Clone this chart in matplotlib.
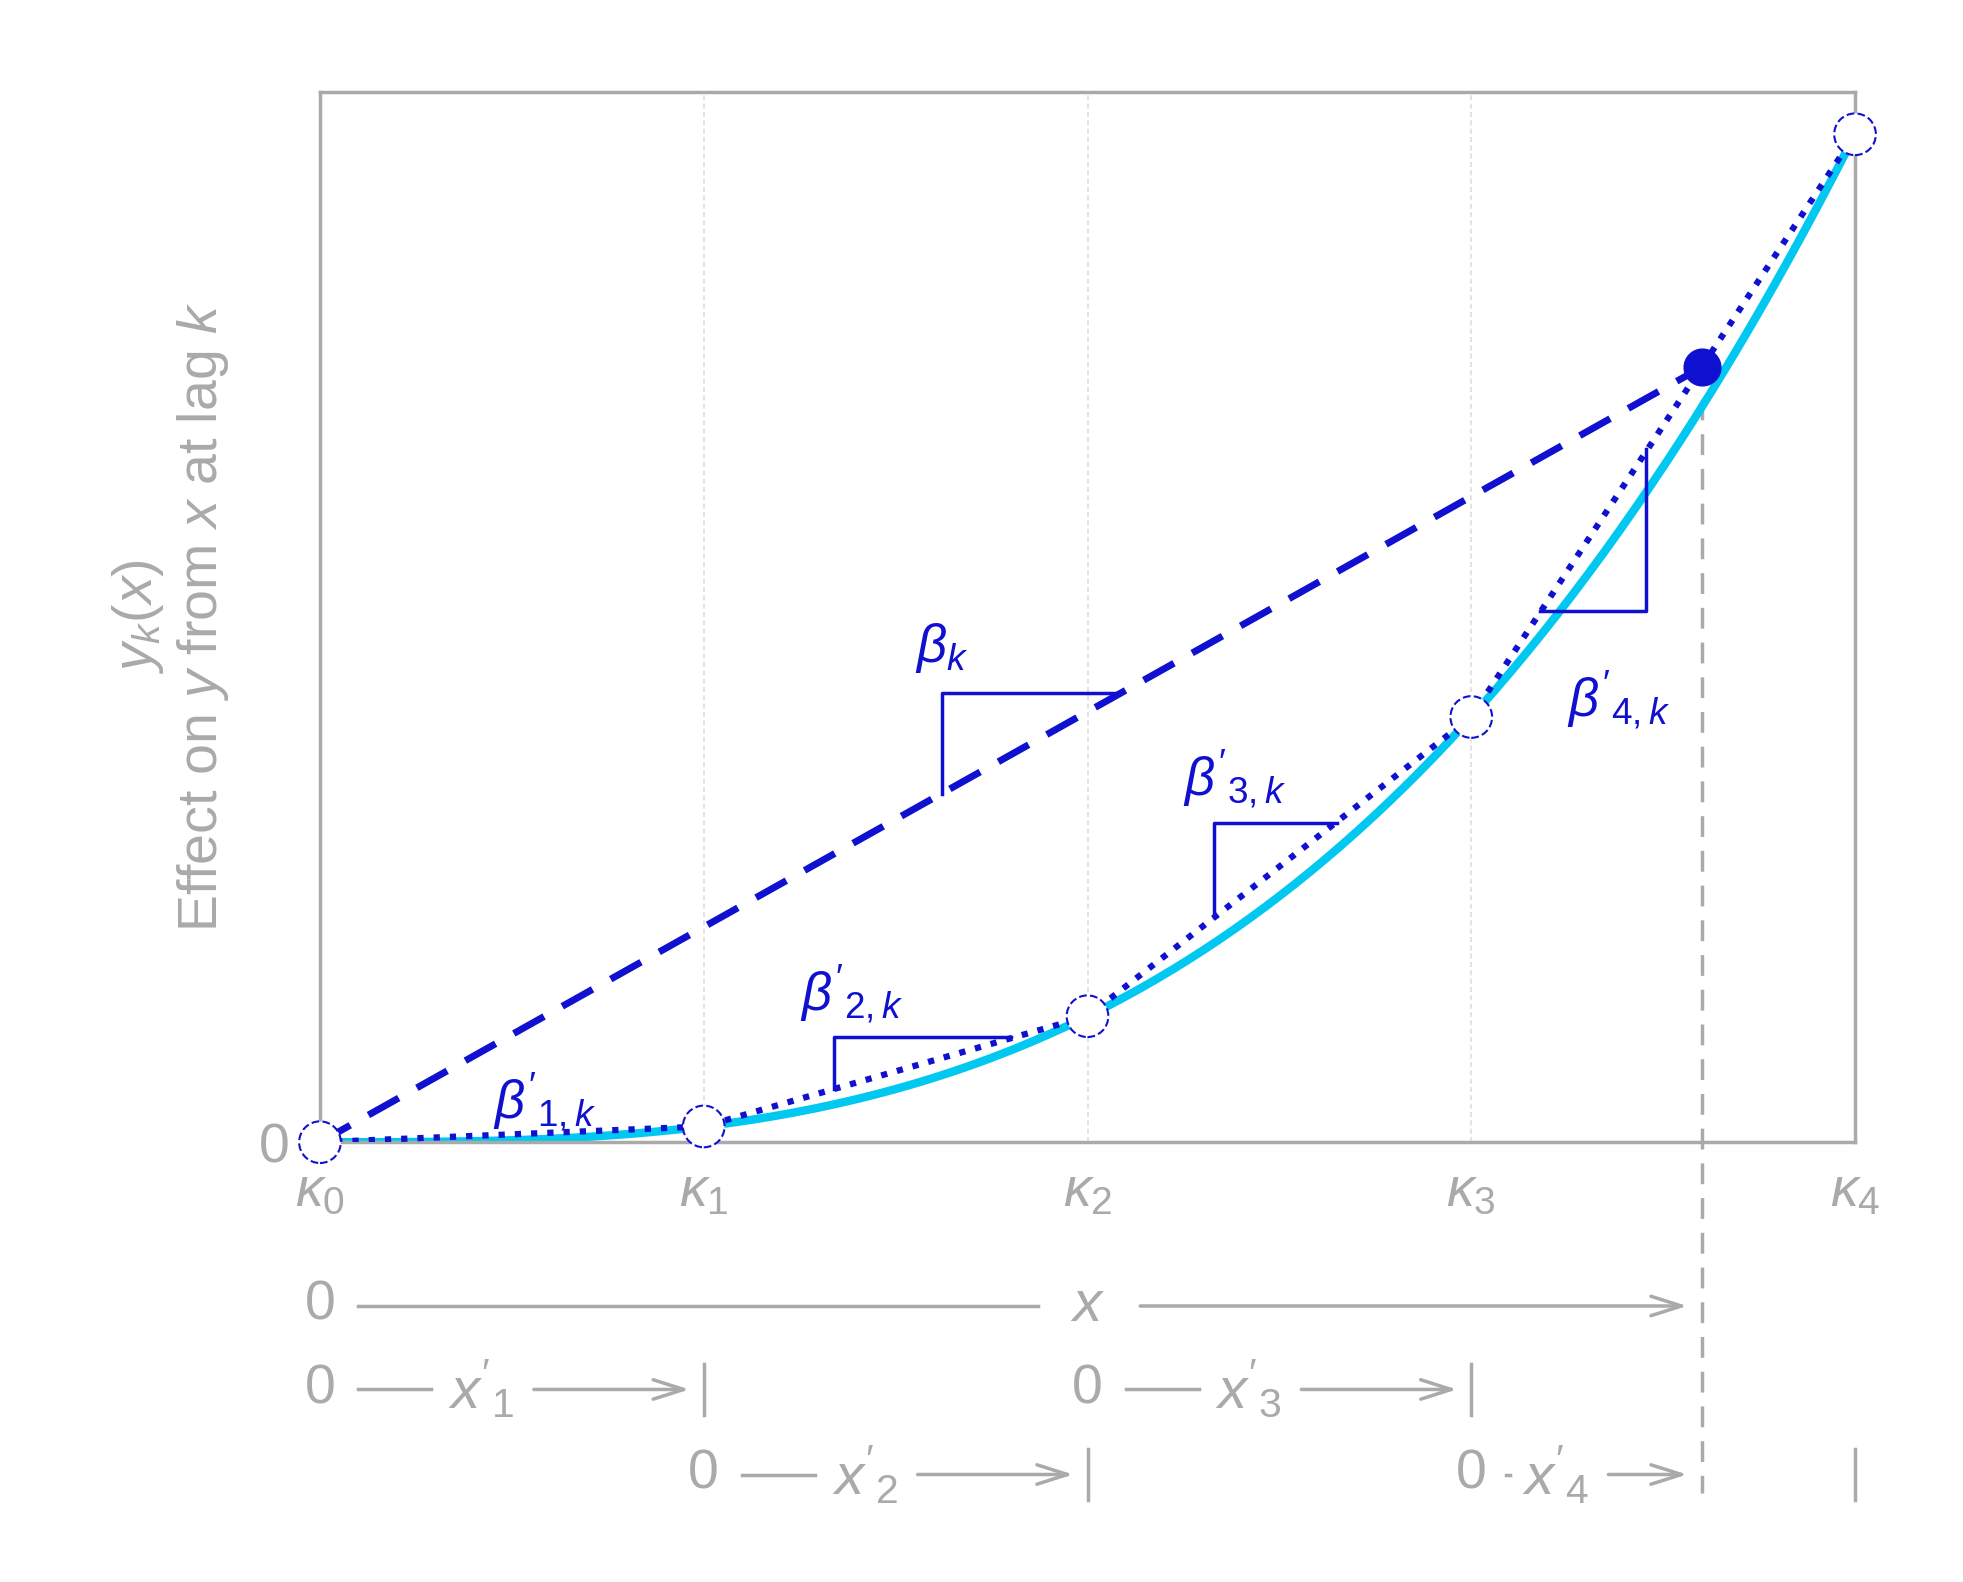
import numpy as np
import matplotlib
matplotlib.use("Agg")
import matplotlib.pyplot as plt

plt.rcParams['font.family'] = ['Liberation Sans', 'DejaVu Sans']
plt.rcParams['mathtext.fontset'] = 'custom'
plt.rcParams['mathtext.rm'] = 'Liberation Sans'
plt.rcParams['mathtext.it'] = 'Liberation Sans:italic'

knots = [0, 1, 2, 3, 4]
knot_labels = [r"$\kappa_0$", r"$\kappa_1$", r"$\kappa_2$", r"$\kappa_3$", r"$\kappa_4$"]
knot_y = [0, 1, 8, 27, 64]
x_point = 3.6
y_point = 49.2

gray = "#aaaaaa"
blue = "#1010d0"
cyan = "#00c8f0"

fig = plt.figure(figsize=(19.63, 15.82), dpi=100)
ax = fig.add_axes([0.163, 0.278, 0.782, 0.664])
ax.set_xlim(0, 4)
ax.set_ylim(0, 66.7)

xs = np.linspace(0, 4, 300)
ax.plot(xs, xs**3, color=cyan, lw=6, zorder=2)
ax.plot(knots, knot_y, color=blue, lw=4.5, ls=(0, (1, 1.6)), zorder=3)
ax.plot([0, x_point], [0, y_point], color=blue, lw=5, ls=(0, (5, 3)), zorder=3)
for k in [1, 2, 3]:
    ax.axvline(k, color="#dddddd", lw=1.2, ls=(0, (3, 2)), zorder=0)
ax.scatter(knots, knot_y, s=900, facecolor="white", edgecolor=blue, linestyle="--", lw=1.5, zorder=5, clip_on=False)
ax.scatter([x_point], [y_point], s=700, color=blue, zorder=6)

tri = dict(color=blue, lw=2.5)
ax.plot([1.34, 1.34, 1.8], [3.4, 6.7, 6.7], **tri)
ax.plot([2.33, 2.33, 2.65], [14.3, 20.3, 20.3], **tri)
ax.plot([3.18, 3.455, 3.455], [33.7, 33.7, 44.0], **tri)
ax.plot([1.62, 1.62, 2.08], [22.1, 28.5, 28.5], **tri)

bf = 38
ax.text(1.55, 30.5, r"$\beta_k$", color=blue, fontsize=bf)
ax.text(0.45, 1.5, r"$\beta'_{1,k}$", color=blue, fontsize=bf)
ax.text(1.25, 8.3, r"$\beta'_{2,k}$", color=blue, fontsize=bf)
ax.text(2.25, 22.0, r"$\beta'_{3,k}$", color=blue, fontsize=bf)
ax.text(3.25, 27.0, r"$\beta'_{4,k}$", color=blue, fontsize=bf)

for s in ax.spines.values():
    s.set_color(gray); s.set_linewidth(2.5)
ax.set_xticks([]); ax.set_yticks([0])
ax.set_yticklabels(["0"], color=gray, fontsize=40)
ax.tick_params(axis="y", length=14, color=gray, width=2, pad=8)
for k, lab in zip(knots, knot_labels):
    ax.text(k, -1.5, lab, color=gray, fontsize=40, ha="center", va="top", clip_on=False)

ax.set_ylabel(r"$y_k(x)$" + "\n" + r"Effect on $y$ from $x$ at lag $k$", color=gray, fontsize=40, labelpad=20, linespacing=1.2)

ax.plot([x_point, x_point], [y_point - 2, -22.3], color=gray, lw=2.5, ls=(0, (6, 4)), clip_on=False, zorder=1)

def row(x0, xtext, xend, y, bar=True, sub=None):
    ax.text(x0, y, "0", color=gray, fontsize=40, ha="center", va="center", clip_on=False)
    ax.plot([x0 + 0.1, xtext - 0.13], [y, y], color=gray, lw=2.5, clip_on=False)
    lab = r"$x$" if sub is None else r"$x'_{%s}$" % sub
    ax.text(xtext, y, lab, color=gray, fontsize=42, ha="center", va="center", clip_on=False)
    ax.annotate("", xy=(xend, y), xytext=(xtext + 0.13, y),
                arrowprops=dict(arrowstyle="->,head_length=2.2,head_width=0.7", color=gray, lw=2.5),
                annotation_clip=False)
    if bar:
        ax.plot([xend + 0.03, xend + 0.03], [y - 1.6, y + 1.6], color=gray, lw=2.5, clip_on=False)

row(0, 2.0, 3.57, -10.4, bar=False)
row(0, 0.42, 0.97, -15.7, sub=1)
row(2, 2.42, 2.97, -15.7, sub=3)
row(1, 1.42, 1.97, -21.1, sub=2)
row(3, 3.22, 3.57, -21.1, bar=False, sub=4)
ax.plot([4, 4], [-19.5, -22.7], color=gray, lw=2.5, clip_on=False)

fig.savefig("out.png", dpi=100, facecolor="white")
